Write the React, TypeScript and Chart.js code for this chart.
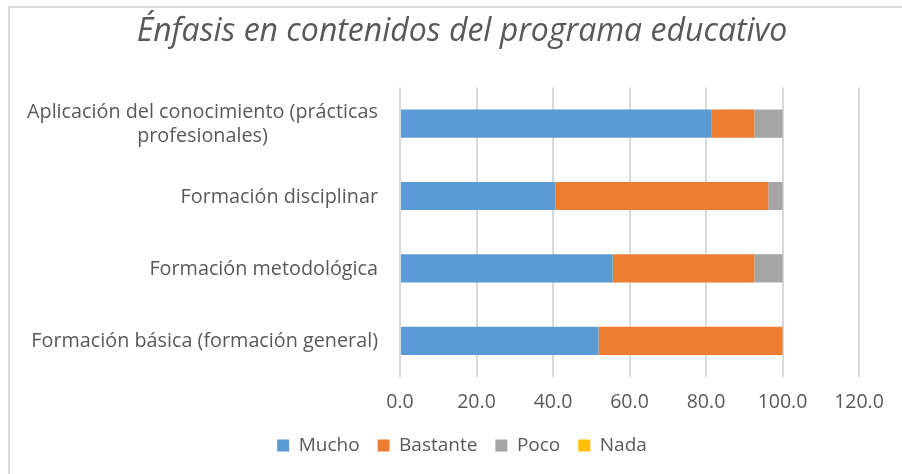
import React, { useEffect, useRef } from "react";
import { Chart, registerables } from "chart.js";

Chart.register(...registerables);

const TITLE = "Énfasis en contenidos del programa educativo";
const categories: string[][] = [
  ["Aplicación del conocimiento (prácticas", "profesionales)"],
  ["Formación disciplinar"],
  ["Formación metodológica"],
  ["Formación básica (formación general)"],
];
const seriesNames = ["Mucho", "Bastante", "Poco", "Nada"];
const mucho = [81.5, 40.7, 55.6, 51.9];
const bastante = [11.1, 55.6, 37.0, 48.1];
const poco = [7.4, 3.7, 7.4, 0];
const nada = [0, 0, 0, 0];
const xMin = 0;
const xMax = 120;
const xStep = 20;
const colors = ["#5B9BD5", "#ED7D31", "#A5A5A5", "#FFC000"];

const TEXT = "#595959";
const FONT = '"Open Sans", "DejaVu Sans", sans-serif';

const yLabelPlugin = {
  id: "yLabels",
  afterDraw(chart: any) {
    const ctx = chart.ctx;
    const yScale = chart.scales.y;
    ctx.save();
    ctx.font = `19.8px ${FONT}`;
    ctx.fillStyle = TEXT;
    ctx.textBaseline = "middle";
    ctx.textAlign = "center";
    const right = chart.chartArea.left - 22;
    const lh = 24;
    categories.forEach((lines, i) => {
      const cy = yScale.getPixelForTick(i) + 1;
      const w = Math.max(...lines.map((l) => ctx.measureText(l).width));
      const cx = right - w / 2;
      lines.forEach((l, j) => {
        ctx.fillText(l, cx, cy + (j - (lines.length - 1) / 2) * lh);
      });
    });
    ctx.restore();
  },
};

export default function App() {
  const ref = useRef<HTMLCanvasElement | null>(null);

  useEffect(() => {
    if (!ref.current) return;
    const seriesData = [mucho, bastante, poco, nada];
    const chart = new Chart(ref.current, {
      type: "bar",
      data: {
        labels: categories.map((c) => c.join(" ")),
        datasets: seriesNames.map((name, i) => ({
          label: name,
          data: seriesData[i],
          backgroundColor: colors[i],
          borderWidth: 0,
          categoryPercentage: 1,
          barPercentage: 0.39,
        })),
      },
      options: {
        indexAxis: "y",
        responsive: false,
        animation: false,
        devicePixelRatio: 1,
        layout: { padding: { left: 65, right: 43, top: 0, bottom: 9 } },
        plugins: {
          title: {
            display: true,
            text: TITLE,
            color: TEXT,
            font: { family: FONT, size: 32, style: "italic", weight: "normal" },
            padding: { top: 13, bottom: 36 },
          },
          legend: {
            position: "bottom",
            labels: {
              boxWidth: 12,
              boxHeight: 12,
              padding: 18,
              color: TEXT,
              font: { family: FONT, size: 19 },
            },
          },
          tooltip: { enabled: false },
        },
        scales: {
          x: {
            stacked: true,
            min: xMin,
            max: xMax,
            border: { display: false },
            grid: { color: "#D9D9D9", lineWidth: 2, drawTicks: false },
            ticks: {
              stepSize: xStep,
              padding: 14,
              color: TEXT,
              font: { family: FONT, size: 19.5 },
              callback: (v: any) => Number(v).toFixed(1),
            },
            afterFit: (s: any) => {
              s.height = 41;
            },
          },
          y: {
            stacked: true,
            border: { display: false },
            grid: { display: false },
            ticks: { display: false },
            afterFit: (s: any) => {
              s.width = 400 - 65;
            },
          },
        },
      },
      plugins: [yLabelPlugin],
    } as any);
    return () => chart.destroy();
  }, []);

  return (
    <div style={{ position: "fixed", left: 0, top: 0, width: 902, height: 474, background: "#fff", overflow: "hidden" }}>
      <div
        style={{
          position: "absolute",
          left: 8,
          top: 6,
          width: 902,
          height: 474,
          borderLeft: "2px solid #D9D9D9",
          borderTop: "2px solid #D9D9D9",
        }}
      />
      <canvas ref={ref} width={902} height={474} style={{ position: "absolute", left: 0, top: 0 }} />
    </div>
  );
}
